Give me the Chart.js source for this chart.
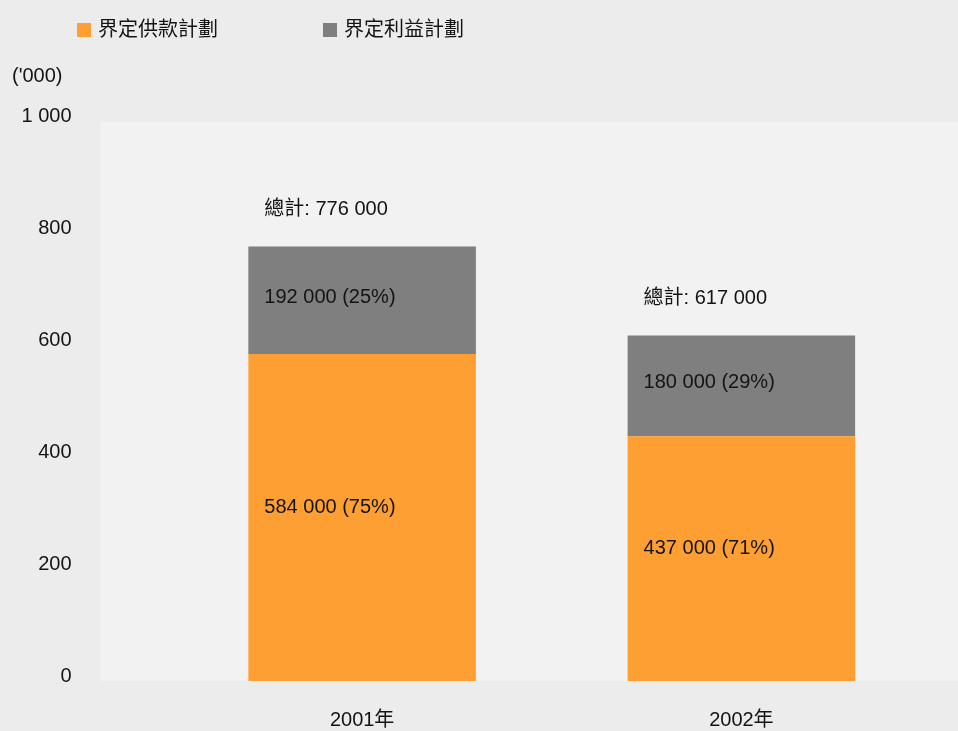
<!DOCTYPE html>
<html>
<head>
<meta charset="utf-8">
<title>界定供款計劃 / 界定利益計劃</title>
<script src="https://cdn.jsdelivr.net/npm/chart.js@4.4.1/dist/chart.umd.min.js"></script>
<style>
    html, body { margin: 0; padding: 0; background: #ececec; overflow: hidden; }
    #wrap { position: relative; width: 958px; height: 731px; }
</style>
</head>
<body>
<div id="wrap">
    <canvas id="schemeChart"></canvas>
</div>
<script>
// values in thousands
const years = ['2001年', '2002年']
const dcValues = [584, 437]
const dbValues = [192, 180]
const seriesNames = ['界定供款計劃', '界定利益計劃']
const yTicks = [0, 200, 400, 600, 800, 1000]

const FONT = '"Liberation Sans", "Noto Sans CJK TC", sans-serif'
const TEXT = '#141414'

const fmt = v => v + ' 000'
const tickFmt = v => v >= 1000 ? Math.floor(v / 1000) + ' ' + String(v % 1000).padStart(3, '0') : String(v)

// plot background + legend + unit label + value labels
const decor = {
    id: 'decor',
    beforeDraw(chart) {
        const { ctx, chartArea } = chart
        ctx.save()
        ctx.fillStyle = '#f2f2f2'
        ctx.fillRect(chartArea.left - 72, chartArea.top + 1, chart.width - (chartArea.left - 72), chartArea.bottom - chartArea.top - 1)
        ctx.restore()
    },
    afterDraw(chart) {
        const { ctx } = chart
        ctx.save()
        ctx.font = '20px ' + FONT
        ctx.textBaseline = 'middle'

        // legend
        const legendX = [77, 323]
        chart.data.datasets.forEach((ds, i) => {
            ctx.fillStyle = ds.backgroundColor
            ctx.fillRect(legendX[i], 23, 14, 14)
            ctx.fillStyle = TEXT
            ctx.textAlign = 'left'
            ctx.fillText(ds.label, legendX[i] + 21, 30)
        })

        // unit
        ctx.fillText("('000)", 12, 76)

        // segment and total labels
        const metaDc = chart.getDatasetMeta(0)
        const metaDb = chart.getDatasetMeta(1)
        years.forEach((y, i) => {
            const total = dcValues[i] + dbValues[i]
            const dcBar = metaDc.data[i]
            const dbBar = metaDb.data[i]
            const left = dcBar.x - dcBar.width / 2 + 16
            ctx.fillStyle = TEXT
            ctx.fillText('總計: ' + fmt(total), left, dbBar.y - 37)
            const dbPct = Math.round(dbValues[i] / total * 100)
            const dcPct = 100 - dbPct
            ctx.fillText(fmt(dbValues[i]) + ' (' + dbPct + '%)', left, (dbBar.y + dbBar.base) / 2 - 3)
            ctx.fillText(fmt(dcValues[i]) + ' (' + dcPct + '%)', left, (dcBar.y + dcBar.base) / 2 - 10)
        })
        ctx.restore()
    }
}

new Chart(document.getElementById('schemeChart'), {
    type: 'bar',
    data: {
        labels: years,
        datasets: [
            { label: seriesNames[0], data: dcValues, backgroundColor: '#fe9f33' },
            { label: seriesNames[1], data: dbValues, backgroundColor: '#7f7f7f' }
        ]
    },
    options: {
        responsive: true,
        maintainAspectRatio: false,
        animation: false,
        layout: { padding: { top: 121, right: 27, left: 0, bottom: 0 } },
        datasets: { bar: { categoryPercentage: 1, barPercentage: 0.6 } },
        plugins: {
            legend: { display: false },
            tooltip: { enabled: false }
        },
        scales: {
            x: {
                stacked: true,
                grid: { display: false, drawTicks: false },
                border: { display: false },
                ticks: { color: TEXT, font: { family: FONT, size: 20 }, padding: 27 },
                afterFit(scale) { scale.height = 50 }
            },
            y: {
                stacked: true,
                min: 0,
                max: 1000,
                afterBuildTicks(scale) { scale.ticks = yTicks.map(v => ({ value: v })) },
                grid: { display: false, drawTicks: false },
                border: { display: false },
                ticks: {
                    color: TEXT,
                    font: { family: FONT, size: 20 },
                    padding: 101,
                    labelOffset: -5,
                    callback: v => tickFmt(v)
                },
                afterFit(scale) {
                    scale.width = 172.5
                    // the big tick padding would otherwise be reserved above/below the plot too
                    scale.paddingTop = 0
                    scale.paddingBottom = 0
                }
            }
        }
    },
    plugins: [decor]
})
</script>
</body>
</html>
